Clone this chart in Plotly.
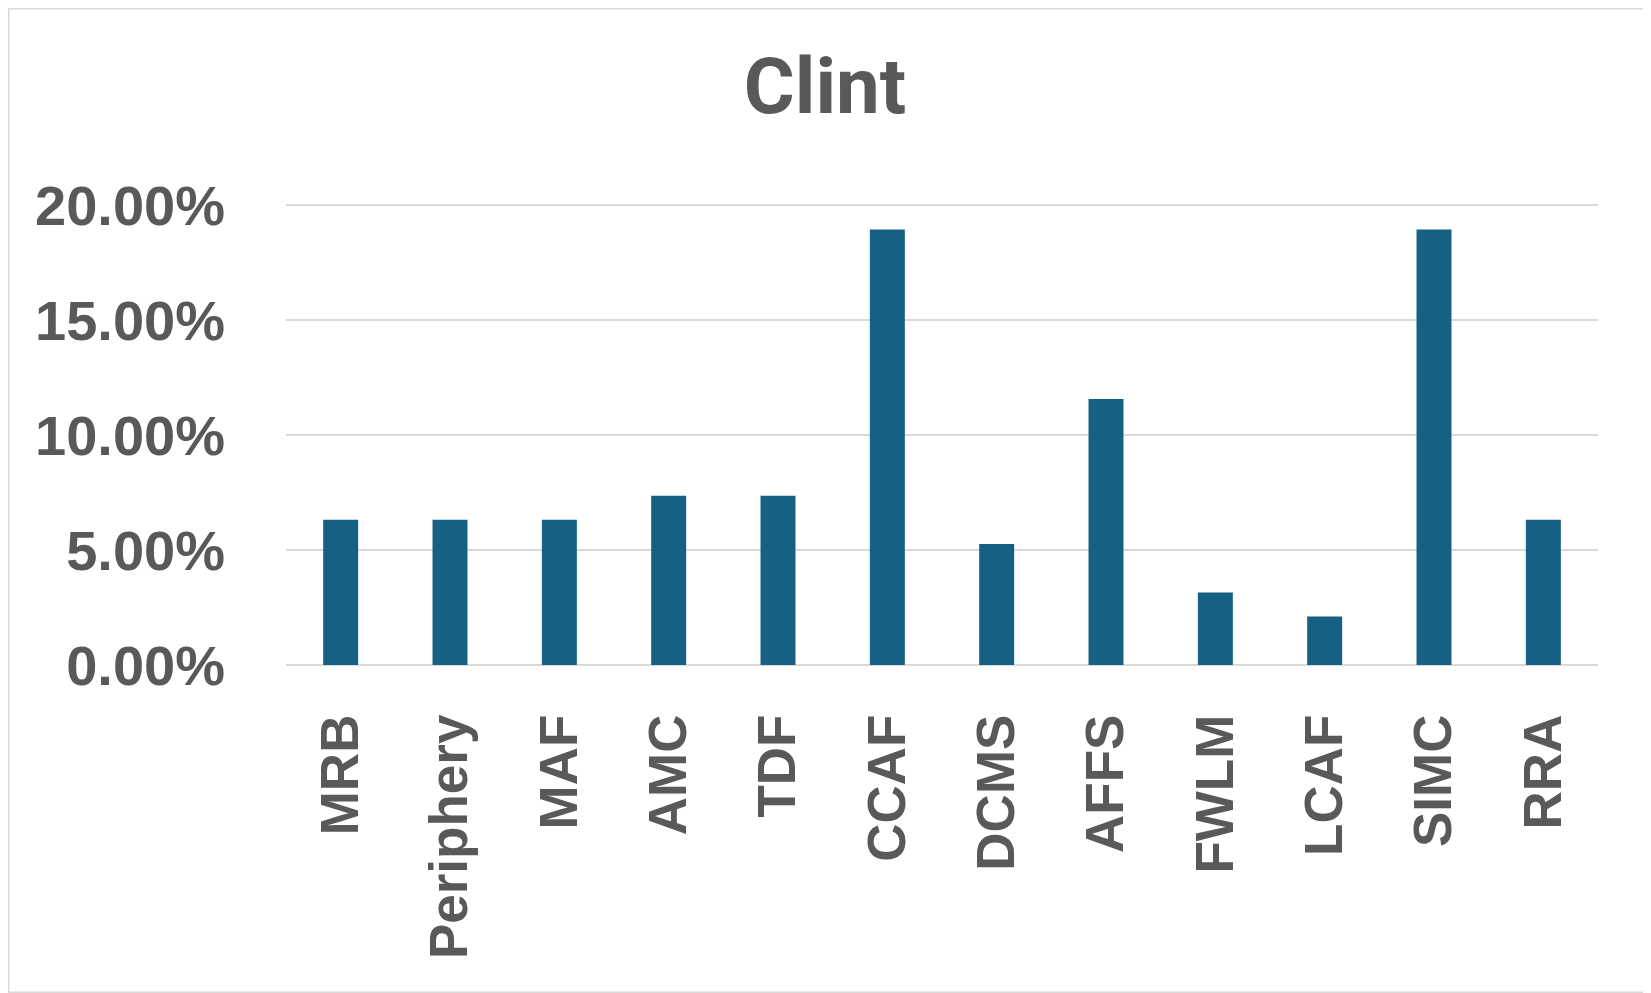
import plotly.graph_objects as go

categories = ["MRB", "Periphery", "MAF", "AMC", "TDF", "CCAF", "DCMS", "AFFS", "FWLM", "LCAF", "SIMC", "RRA"]
counts = [6, 6, 6, 7, 7, 18, 5, 11, 3, 2, 18, 6]
total = 95
values = [c / total for c in counts]
y_ticks = [0, 0.05, 0.10, 0.15, 0.20]

W, H = 1643, 985
L, R, T, B = 278, 53, 196, 328
PW, PH = W - L - R, H - T - B
fig = go.Figure()
fig.add_trace(go.Bar(x=categories, y=values, marker=dict(color="#166083", line=dict(width=0))))

fig.update_layout(
    width=W, height=H,
    paper_bgcolor="white", plot_bgcolor="white",
    margin=dict(l=L, r=R, t=T, b=B),
    bargap=0.68,
    showlegend=False,
    title=dict(text="<b>Clint</b>", x=(825 - 8) / W, xanchor="center", y=1 - 78 / H, yanchor="middle",
               font=dict(family="Roboto", size=78, color="#595959")),
    xaxis=dict(tickangle=-90, tickfont=dict(family="Liberation Sans", size=53, color="#595959", weight="bold"),
               showgrid=False, showline=False, ticks="", ticklabelstandoff=38),
    yaxis=dict(range=[0, 0.2006], tickvals=y_ticks, tickformat=".2%",
               tickfont=dict(family="Liberation Sans", size=56, color="#595959", weight="bold"),
               showgrid=True, gridcolor="#d9d9d9", gridwidth=2,
               zeroline=True, zerolinecolor="#d9d9d9", zerolinewidth=2,
               showline=False, ticks="", ticklabelstandoff=60),
    font=dict(family="Liberation Sans", color="#595959"),
)
fig.add_shape(type="rect", xref="x domain", yref="y domain", x0=-L / PW, x1=1 + R / PW,
              y0=-B / PH, y1=1 + T / PH, line=dict(color="#d9d9d9", width=3))
fig.write_html("out.html")
